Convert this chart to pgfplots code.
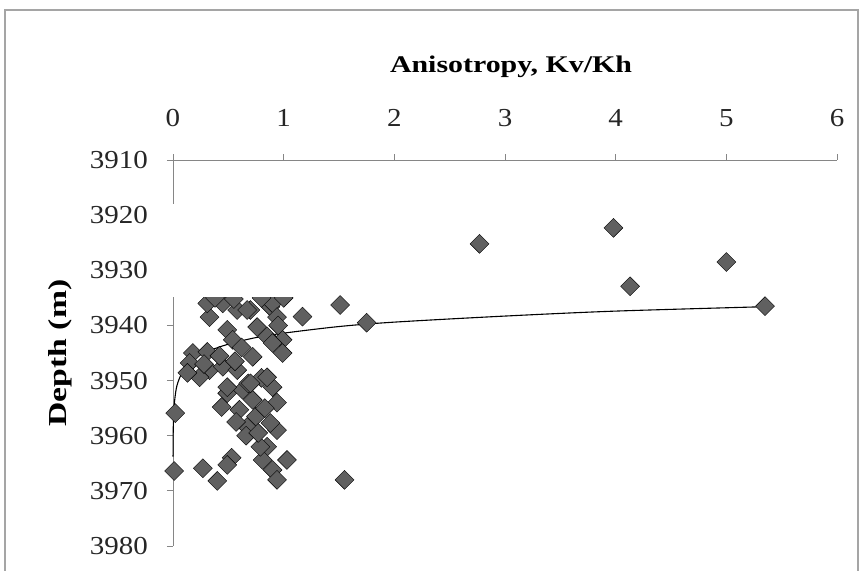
\documentclass[border=0pt]{standalone}
\usepackage{pgfplots}
\pgfplotsset{compat=1.18}
\usepackage{fontspec}
\setmainfont{Liberation Serif}
\definecolor{mk}{RGB}{96,96,96}
\definecolor{ax}{RGB}{134,134,134}
\definecolor{fr}{RGB}{165,165,165}
\begin{document}
\begin{tikzpicture}
\useasboundingbox (0,0) rectangle (861bp,571bp);
\begin{axis}[
  at={(173bp,25bp)}, anchor=south west,
  scale only axis, width=664bp, height=386bp,
  xmin=0, xmax=6, ymin=3910, ymax=3980, y dir=reverse,
  axis x line*=top, axis y line*=left,
  clip=false,
  xtick={0,1,2,3,4,5,6},
  ytick={3910,3920,3930,3940,3950,3960,3970,3980},
  tick align=outside, major tick length=6bp,
  axis line style={draw=ax, line width=0.9bp},
  tick style={draw=ax, line width=0.9bp},
  /pgf/number format/1000 sep={},
  /pgf/number format/assume math mode=true,
  xticklabel style={font=\fontsize{26}{26}\selectfont, text=black!85, inner sep=0pt, anchor=south, yshift=27bp, xscale=1.12},
  yticklabel style={font=\fontsize{26}{26}\selectfont, text=black!85, inner sep=0pt, anchor=east, xshift=-19bp, xscale=1.12},
  xlabel={\textbf{Anisotropy, Kv/Kh}},
  ylabel={\textbf{Depth (m)}},
  every axis x label/.style={at={(axis description cs:0.5,1)}, anchor=center, yshift=93bp, xshift=6bp,
     font=\fontsize{24}{24}\selectfont, xscale=1.25},
  every axis y label/.style={at={(axis description cs:0,0.5)}, rotate=90, yshift=113bp, xscale=1.3, anchor=center,
     font=\fontsize{26}{26}\selectfont},
]
\addplot[only marks, mark=square*, mark size=6.7bp, mark options={rotate=45, fill=mk, draw=none}] table {
x d
2.77 3925.2
3.98 3922.3
5.00 3928.5
4.13 3932.9
5.35 3936.5
1.75 3939.5
1.51 3936.3
1.17 3938.4
1.55 3968.0
0.02 3955.9
0.01 3966.4
0.27 3965.9
0.40 3968.2
0.53 3964.0
0.49 3965.3
0.49 3952.3
0.44 3954.8
0.90 3951.2
0.94 3954.0
0.94 3959.0
0.85 3962.0
0.81 3964.4
1.03 3964.4
0.90 3966.2
0.94 3968.0
0.67 3958.4
0.79 3962.0
0.88 3957.7
0.60 3955.3
0.63 3951.7
0.72 3953.5
0.75 3956.5
0.83 3955.0
0.68 3950.5
0.80 3949.5
0.33 3938.5
0.31 3936.0
0.45 3936.0
0.58 3937.2
0.70 3937.2
0.88 3936.6
0.49 3940.8
0.54 3942.6
0.76 3940.3
0.85 3942.0
0.18 3945.0
0.15 3946.8
0.31 3944.8
0.33 3948.1
0.24 3949.4
0.13 3948.6
0.45 3947.5
0.58 3948.1
0.72 3945.7
0.70 3950.5
0.85 3949.4
0.49 3951.2
0.67 3937.2
0.90 3936.0
0.94 3938.5
0.99 3942.6
0.90 3943.2
0.99 3945.0
0.56 3946.5
0.62 3944.0
0.95 3940.0
0.38 3935.0
0.55 3935.2
0.80 3935.0
1.00 3935.0
0.28 3947.0
0.42 3945.5
0.66 3960.0
0.77 3959.5
0.57 3957.5
};
\addplot[black, line width=1.1bp, smooth] coordinates {
(0.0004,3963.8) (0.001,3961.2) (0.003,3958.0) (0.01,3954.6) (0.03,3951.4)
(0.06,3949.5) (0.1,3948.0) (0.2,3946.0) (0.3,3944.8) (0.5,3943.4)
(0.75,3942.2) (1,3941.4) (1.5,3940.2) (2,3939.4) (3,3938.3) (4,3937.4) (5.35,3936.6)
};
\coordinate (m1) at (axis cs:-0.12,3918);
\coordinate (m2) at (axis cs:1.3,3934.9);
\end{axis}
\fill[white] (m1) rectangle (m2);
\draw[fr, line width=1.5bp] (5bp,-20bp) rectangle (858bp,561bp);
\end{tikzpicture}
\end{document}
